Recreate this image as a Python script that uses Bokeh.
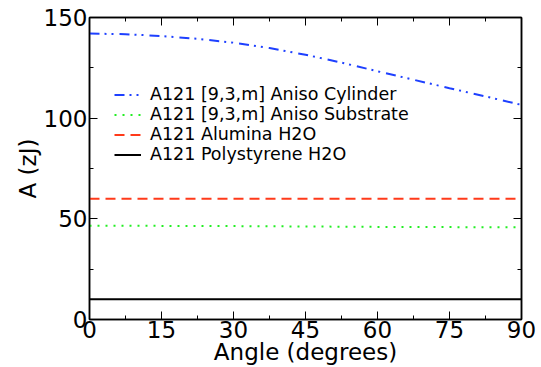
from bokeh.plotting import figure
from bokeh.models import (FixedTicker, LinearAxis, Range1d, Legend, LegendItem,
                          CustomJSTickFormatter)
from bokeh.embed import file_html
from bokeh.resources import INLINE

# ---- data ----
angle = [0, 7.5, 15, 22.5, 30, 37.5, 45, 52.5, 60, 67.5, 75, 82.5, 90]
aniso_cylinder = [142.0, 141.7, 140.8, 139.4, 137.5, 134.8, 131.5, 127.6, 123.3, 119.1, 114.9, 110.8, 106.6]
aniso_substrate = [46.6, 46.6, 46.5, 46.5, 46.4, 46.3, 46.2, 46.1, 46.0, 45.9, 45.9, 45.8, 45.8]
alumina_h2o = [60.0] * len(angle)
polystyrene_h2o = [10.0] * len(angle)

x_ticks = [0, 15, 30, 45, 60, 75, 90]
x_minor = [7.5, 22.5, 37.5, 52.5, 67.5, 82.5]
y_ticks = [0, 50, 100, 150]
y_minor = [25, 75, 125]

labels = ["A121 [9,3,m] Aniso Cylinder", "A121 [9,3,m] Aniso Substrate",
          "A121 Alumina H2O", "A121 Polystyrene H2O"]

FONT = "DejaVu Sans"

p = figure(width=541, height=367, output_backend="svg", toolbar_location=None,
           x_range=Range1d(0, 90), y_range=Range1d(0, 150),
           min_border_left=89, min_border_right=20, min_border_top=17,
           min_border_bottom=20)
p.grid.visible = False
p.outline_line_color = "black"
p.outline_line_width = 1.5
p.background_fill_color = "white"
p.border_fill_color = "white"

def style(ax, ticks, minor, show_labels=True):
    ax.ticker = FixedTicker(ticks=ticks, minor_ticks=minor)
    ax.axis_line_width = 1.5
    ax.axis_line_color = "black"
    ax.major_tick_in = 8
    ax.major_tick_out = 0
    ax.minor_tick_in = 4
    ax.minor_tick_out = 0
    ax.major_tick_line_width = 1
    ax.minor_tick_line_width = 1
    ax.major_label_text_font = FONT
    ax.major_label_text_font_size = "23px"
    ax.major_label_text_color = "black"
    ax.axis_label_text_font = FONT
    ax.axis_label_text_font_size = "23px"
    ax.axis_label_text_font_style = "normal"
    ax.axis_label_text_color = "black"
    if not show_labels:
        ax.formatter = CustomJSTickFormatter(code="return ''")
        ax.major_label_text_font_size = "1px"
        ax.major_label_standoff = 0

xa = p.xaxis[0]
style(xa, x_ticks, x_minor)
xa.axis_label = "Angle (degrees)"
xa.major_label_standoff = 1
xa.axis_label_standoff = -2

ya = p.yaxis[0]
style(ya, y_ticks, y_minor)
ya.axis_label = "A (zJ)"
ya.major_label_standoff = 2
ya.axis_label_standoff = 0

top = LinearAxis()
style(top, x_ticks, x_minor, show_labels=False)
p.add_layout(top, "above")
right = LinearAxis()
style(right, y_ticks, y_minor, show_labels=False)
p.add_layout(right, "right")

r1 = p.line(angle, aniso_cylinder, line_color="#1e40ff", line_width=2, line_dash="10 5 2 5 2 6")
r2 = p.line(angle, aniso_substrate, line_color="#22ee22", line_width=2, line_dash="2 6")
r3 = p.line(angle, alumina_h2o, line_color="#ff3a1a", line_width=2, line_dash="10 6")
r4 = p.line(angle, polystyrene_h2o, line_color="black", line_width=2)

# one legend per row so the rows can sit as tightly as in the reference
row_offsets = [215, 195, 175, 155]
for lab, rend, off in zip(labels, [r1, r2, r3, r4], row_offsets):
    lg = Legend(items=[LegendItem(label=lab, renderers=[rend])],
                location=(25, off), border_line_color=None, background_fill_alpha=0,
                label_text_font=FONT, label_text_font_size="17.5px", label_text_color="black",
                label_standoff=9, glyph_width=27, glyph_height=19, label_height=19,
                padding=0, margin=0)
    p.add_layout(lg, "center")

open("out.html", "w").write(file_html(p, INLINE))
